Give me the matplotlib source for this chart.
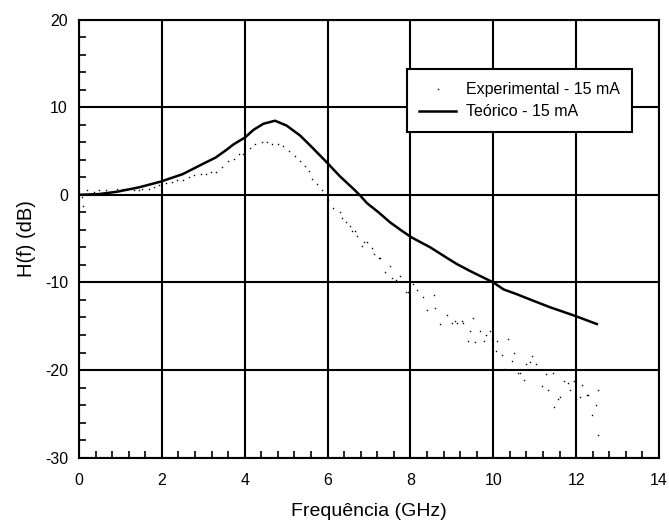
import matplotlib
matplotlib.use("Agg")
import matplotlib.pyplot as plt
from matplotlib.ticker import MultipleLocator

# Theoretical curve (GHz, dB)
f_teo = [0, 0.48, 0.92, 1.45, 1.97, 2.5, 2.98, 3.3, 3.58, 3.73, 4.01, 4.21, 4.45, 4.73,
         5.01, 5.34, 5.66, 5.98, 6.3, 6.63, 6.79, 6.95, 7.23, 7.51, 7.79, 8.03, 8.48,
         8.88, 9.12, 9.44, 10.0, 10.25, 10.57, 10.97, 11.38, 11.78, 12.02, 12.5]
h_teo = [0, 0.08, 0.35, 0.85, 1.5, 2.35, 3.5, 4.25, 5.2, 5.75, 6.55, 7.4, 8.1, 8.45,
         7.9, 6.75, 5.25, 3.7, 2.1, 0.65, -0.1, -0.95, -2.0, -3.15, -4.1, -4.87, -6.0,
         -7.2, -7.9, -8.7, -10.0, -10.8, -11.35, -12.1, -12.85, -13.5, -13.9, -14.75]

# Experimental points (GHz, dB)
f_exp = [0.08, 0.1, 0.2, 0.36, 0.48, 0.64, 0.8, 0.92, 1.05, 1.17, 1.33, 1.45, 1.53, 1.69,
         1.81, 1.93, 2.09, 2.25, 2.37, 2.5, 2.66, 2.78, 2.94, 3.06, 3.18, 3.3, 3.46, 3.6,
         3.73, 3.87, 3.97, 4.13, 4.25, 4.41, 4.53, 4.65, 4.81, 4.93, 5.06, 5.22, 5.34,
         5.46, 5.54, 5.62, 5.74, 5.86, 6.02, 6.14, 6.29, 6.35, 6.45, 6.53, 6.59, 6.67,
         6.72, 6.83, 6.87, 6.96, 7.07, 7.11, 7.23, 7.27, 7.39, 7.5, 7.55, 7.66, 7.75,
         7.9, 7.95, 8.07, 8.17, 8.31, 8.41, 8.56, 8.6, 8.72, 8.88, 9.0, 9.08, 9.13, 9.24,
         9.28, 9.38, 9.43, 9.52, 9.57, 9.67, 9.77, 9.82, 9.91, 9.97, 10.06, 10.1, 10.21,
         10.25, 10.35, 10.45, 10.49, 10.6, 10.64, 10.73, 10.79, 10.88, 10.94, 11.03,
         11.18, 11.28, 11.32, 11.43, 11.47, 11.56, 11.61, 11.71, 11.8, 11.85, 11.95,
         12.0, 12.1, 12.15, 12.25, 12.29, 12.39, 12.48, 12.52, 12.52]
h_exp = [-0.2, -1.3, 0.55, 0.35, 0.55, 0.55, 0.35, 0.7, 0.7, 0.7, 0.55, 0.55, 0.7, 0.7,
         0.9, 1.1, 1.3, 1.5, 1.7, 1.7, 2.0, 2.2, 2.4, 2.4, 2.55, 2.55, 3.2, 3.9,
         4.1, 4.65, 4.65, 5.3, 5.8, 6.0, 6.0, 5.8, 5.8, 5.6, 5.0, 4.45, 3.9,
         3.3, 2.75, 1.8, 1.2, 0.6, -0.55, -1.5, -2.0, -2.7, -3.15, -3.6, -4.1, -4.1,
         -4.75, -5.9, -5.35, -5.35, -6.1, -6.75, -7.25, -7.25, -8.85, -8.15, -9.55, -9.7, -9.3,
         -11.15, -11.15, -10.2, -10.9, -11.7, -13.15, -11.45, -12.9, -14.75, -13.7, -14.65, -14.4, -14.6, -14.4,
         -14.6, -16.7, -15.5, -14.1, -16.85, -15.5, -16.7, -16.0, -15.5, -16.4, -17.8, -16.7, -18.3,
         -19.85, -16.4, -18.95, -18.0, -20.3, -20.3, -21.15, -19.3, -19.1, -18.45, -19.3,
         -21.85, -20.5, -22.3, -20.3, -24.2, -23.3, -23.05, -21.2, -21.45, -22.3, -21.2,
         -23.3, -23.05, -21.7, -22.85, -22.85, -25.1, -24.0, -22.3, -27.4]

x_ticks = [0, 2, 4, 6, 8, 10, 12, 14]
y_ticks = [-30, -20, -10, 0, 10, 20]

plt.rcParams['font.family'] = ['Liberation Sans', 'DejaVu Sans']
plt.rcParams['axes.unicode_minus'] = False

fig = plt.figure(figsize=(6.69, 5.27), dpi=100)
ax = fig.add_axes([79 / 669, 1 - 457.7 / 527, 580 / 669, 438.2 / 527])

ax.plot(f_exp, h_exp, linestyle='none', marker='s', markersize=1.0, markeredgewidth=0,
        color='black', label='Experimental - 15 mA')
ax.plot(f_teo, h_teo, color='black', linewidth=1.8, label='Teórico - 15 mA')

ax.set_xlim(0, 14)
ax.set_ylim(-30, 20)
ax.set_xticks(x_ticks)
ax.set_yticks(y_ticks)
ax.xaxis.set_minor_locator(MultipleLocator(0.4))
ax.yaxis.set_minor_locator(MultipleLocator(2))
ax.tick_params(which='major', direction='in', length=0, labelsize=11.5)
ax.tick_params(axis='x', which='major', pad=11)
ax.tick_params(axis='y', which='major', pad=8)
ax.tick_params(which='minor', direction='in', length=5, width=1.2)
ax.grid(True, which='major', color='black', linewidth=1.5)
ax.set_axisbelow(True)
for s in ax.spines.values():
    s.set_linewidth(1.5)

ax.set_xlabel('Frequência (GHz)', fontsize=14, labelpad=11)
ax.set_ylabel('H(f) (dB)', fontsize=14.5, labelpad=6)

leg = ax.legend(loc='upper left', bbox_to_anchor=(0.565, 0.886), borderaxespad=0,
                fancybox=False, edgecolor='black', framealpha=1, fontsize=11.5,
                handlelength=2.3, handletextpad=0.6, borderpad=0.8, labelspacing=0.45,
                numpoints=1, markerscale=1)
leg.get_frame().set_linewidth(1.5)

fig.savefig('out.png', dpi=100)
